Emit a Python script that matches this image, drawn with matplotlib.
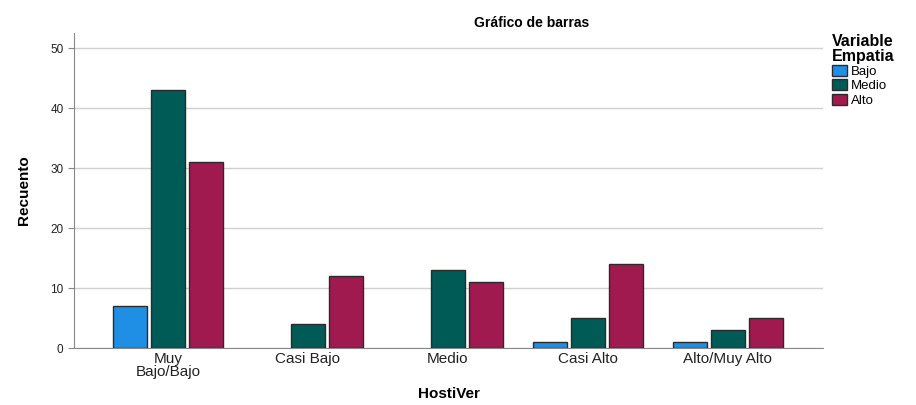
import matplotlib.pyplot as plt
import numpy as np

plt.rcParams['font.family'] = ['Liberation Sans', 'DejaVu Sans']

# Datos
categorias = ['Muy\nBajo/Bajo', 'Casi Bajo', 'Medio', 'Casi Alto', 'Alto/Muy Alto']
series = ['Bajo', 'Medio', 'Alto']
bajo = [7, 0, 0, 1, 1]
medio = [43, 4, 13, 5, 3]
alto = [31, 12, 11, 14, 5]
colores = ['#1f8fe6', '#005a56', '#a0194f']

fig = plt.figure(figsize=(9.16, 4.05), dpi=100)
ax = fig.add_axes([0.0808, 0.1407, 0.8177, 0.7778])

x = np.arange(len(categorias))
ancho = 0.245
paso = 0.272
for i, (nombre, vals, col) in enumerate(zip(series, [bajo, medio, alto], colores)):
    vals = np.array(vals, dtype=float)
    mask = vals > 0
    ax.bar(x[mask] + (i - 1) * paso, vals[mask], width=ancho, color=col,
           edgecolor='#2b2b2b', linewidth=1, label=nombre, zorder=3)

ax.set_xlim(-0.67, 4.68)
ax.set_ylim(0, 52.5)
ax.set_yticks(range(0, 51, 10))
ax.set_xticks(x)
ax.set_xticklabels(categorias, fontsize=11, color='#222222', linespacing=0.9)
ax.tick_params(axis='x', length=0, pad=3)
ax.tick_params(axis='y', labelsize=8.5, length=4, color='#888888', colors='#222222')
ax.grid(axis='y', color='#d0d0d0', linewidth=1, zorder=0)

for s in ['top', 'right']:
    ax.spines[s].set_visible(False)
ax.spines['left'].set_color('#888888')
ax.spines['bottom'].set_color('#888888')

ax.set_xlabel('HostiVer', fontsize=11, fontweight='bold', labelpad=6)
ax.set_ylabel('Recuento', fontsize=11, fontweight='bold', labelpad=14)
fig.text(0.58, 0.942, 'Gráfico de barras', ha='center', va='center',
         fontsize=10, fontweight='bold')

leg = ax.legend(loc='upper left', bbox_to_anchor=(1.0, 1.025), frameon=False,
                title='Variable\nEmpatia', fontsize=9.5, handlelength=1.1,
                handleheight=0.9, handletextpad=0.3, labelspacing=0.1,
                borderaxespad=0.3)
leg.get_title().set_fontweight('bold')
leg.get_title().set_fontsize(11.5)
leg.get_title().set_linespacing(0.95)
leg._legend_box.align = 'left'

fig.savefig('out.png', dpi=100)
